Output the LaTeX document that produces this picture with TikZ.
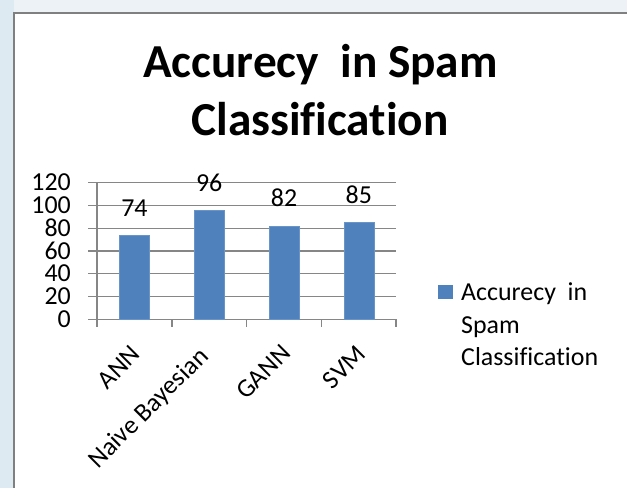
\documentclass[tikz,border=0pt]{standalone}
\usepackage{fontspec}
\setmainfont{Carlito}[Ligatures=NoCommon]
\definecolor{bgblue}{RGB}{222,234,241}
\definecolor{bgtop}{RGB}{236,242,246}
\definecolor{framegray}{RGB}{128,128,128}
\definecolor{gridgray}{RGB}{134,134,134}
\definecolor{barblue}{RGB}{79,129,189}
\begin{document}
\begin{tikzpicture}[x=1bp,y=-1bp,
  gridline/.style={draw=gridgray, line width=1.4bp},
  barbox/.style={fill=barblue, draw=barblue!85!white, line width=0.6bp},
  ylab/.style={anchor=base east, inner sep=0, font=\fontsize{26}{31}\selectfont},
  vlab/.style={anchor=base, inner sep=0, font=\fontsize{26}{31}\selectfont},
  catlab/.style={anchor=north east, rotate=45, inner sep=0, text height=16.5bp, text depth=0bp, font=\fontsize{26}{31}\selectfont},
  titletext/.style={anchor=base, inner sep=0, font=\fontsize{47.5}{58}\selectfont\bfseries},
  legtext/.style={anchor=base west, inner sep=0, font=\fontsize{26}{32}\selectfont}]
\useasboundingbox (0,0) rectangle (627,488);
\fill[bgblue] (0,0) rectangle (627,488);
\fill[bgtop] (14,0) rectangle (627,13);
\draw[draw=framegray, line width=1.6bp, fill=white] (14,13) rectangle (680,540);
% title
\node[titletext] (t1) at (320.5,78) {Accurecy\ \ in Spam};
\node[titletext] (t2) at (320,136) {Classification};
% gridlines and y labels
\foreach \v/\n in {0/g0,20/g20,40/g40,60/g60,80/g80,100/g100,120/g120}{
  \draw[gridline] (88,{319.3-\v*1.1383}) -- (396,{319.3-\v*1.1383});
  \node[ylab] (\n) at (71,{319.3-\v*1.1383+8.2}) {\v};
}
\draw[gridline] (97,182.7) -- (97,327);
\foreach \x in {171.8,246.6,321.4,396}{
  \draw[gridline] (\x,319.3) -- (\x,327);
}
% bars
\foreach \c/\v/\n in {134.4/74/b1,209.2/96/b2,284/82/b3,358.8/85/b4}{
  \draw[barbox] ({\c-15},319.3) rectangle ({\c+15},{319.3-\v*1.1383});
  \node[vlab] (\n) at (\c,{319.3-\v*1.1383-19}) {\v};
}
% category labels
\node[catlab] (c1) at (130,344) {ANN};
\node[catlab] (c2) at (198,346) {Naive Bayesian};
\node[catlab] (c3) at (280.5,343) {GANN};
\node[catlab] (c4) at (355.5,344) {SVM};
% legend
\fill[barblue] (438.3,285) rectangle (452.7,299.3);
\node[legtext] (l1) at (461,300) {Accurecy\ \ in};
\node[legtext] (l2) at (461,333) {Spam};
\node[legtext] (l3) at (461,365) {Classification};
\end{tikzpicture}
\end{document}
